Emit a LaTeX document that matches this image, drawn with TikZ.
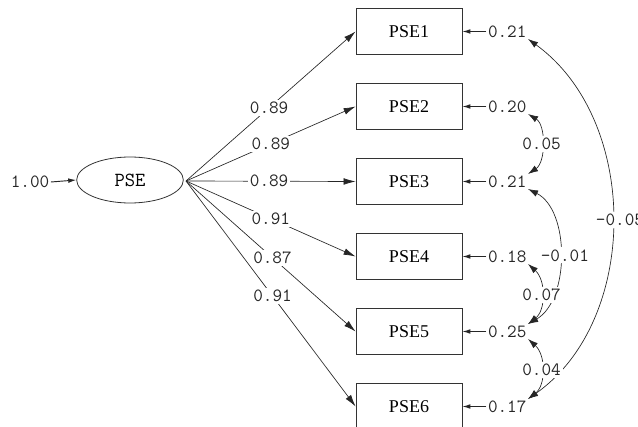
\documentclass[tikz,border=0pt]{standalone}
\usepackage{fontspec}
\setmainfont{Liberation Serif}
\usetikzlibrary{arrows.meta,shapes.geometric}
\begin{document}
\begin{tikzpicture}[x=0.75pt,y=-0.75pt,
  obs/.style={draw=black!80,line width=0.6pt,minimum width=79.5pt,minimum height=34pt,inner sep=0pt,font=\fontsize{13.5}{14}\selectfont},
  lat/.style={draw=black!80,line width=0.6pt,ellipse,minimum width=80pt,minimum height=34.5pt,inner sep=0pt,font=\ttfamily\fontsize{15}{15}\selectfont},
  num/.style={font=\ttfamily\fontsize{14}{14}\selectfont,text=black!85,inner sep=1pt},
  lab/.style={num,fill=white,inner sep=1.5pt},
  load/.style={draw=black!85,line width=0.5pt,-{Latex[length=9pt,width=5pt]}},
  err/.style={draw=black!85,line width=0.7pt,-{Latex[length=6pt,width=3.5pt]}},
  cov/.style={draw=black!85,line width=0.5pt,{Latex[length=7.5pt,width=5pt]}-{Latex[length=7.5pt,width=5pt]}}]
\useasboundingbox (0,0) rectangle (638,427);
\node[lat] (pse) at (130,180) {PSE};
\coordinate (o) at (186,181);
\node[num] (var) at (30,182) {1.00};
\draw[err] (var.east) -- (pse.west);
\foreach \i/\y in {1/31.5,2/106.5,3/181.5,4/256.5,5/331.5,6/406.5}{
  \node[obs] (b\i) at (409,\y) {PSE\i};
}
\foreach \i/\v in {1/0.21,2/0.20,3/0.21,4/0.18,5/0.25,6/0.17}{
  \node[num,anchor=west] (e\i) at ([xshift=18pt]b\i.east) {\v};
  \draw[err] (e\i.west) -- (b\i.east);
}
\draw[load] (o) -- node[lab,pos=0.49] {0.89} (b1.west);
\draw[load] (o) -- node[lab,pos=0.5] {0.89} (b2.west);
\draw[load] (o) -- node[lab,pos=0.49] {0.89} (b3.west);
\draw[load] (o) -- node[lab,pos=0.5] {0.91} (b4.west);
\draw[load] (o) -- node[lab,pos=0.51] {0.87} (b5.west);
\draw[load] (o) -- node[lab,pos=0.51] {0.91} (b6.west);
\draw[cov] (e1.south east) .. controls (640,120) and (640,320) .. node[lab,pos=0.5,xshift=6] {-0.05} (e6.north east);
\draw[cov] (e3.south east) .. controls (570,210) and (570,300) .. node[lab,pos=0.5,xshift=4] {-0.01} (e5.north east);
\draw[cov] (e2.south east) .. controls (546,125) and (546,162) .. node[lab,pos=0.5] {0.05} (e3.north east);
\draw[cov] (e4.south east) .. controls (546,280) and (546,310) .. node[lab,pos=0.5] {0.07} (e5.north east);
\draw[cov] (e5.south east) .. controls (546,355) and (546,385) .. node[lab,pos=0.5] {0.04} (e6.north east);
\end{tikzpicture}
\end{document}
